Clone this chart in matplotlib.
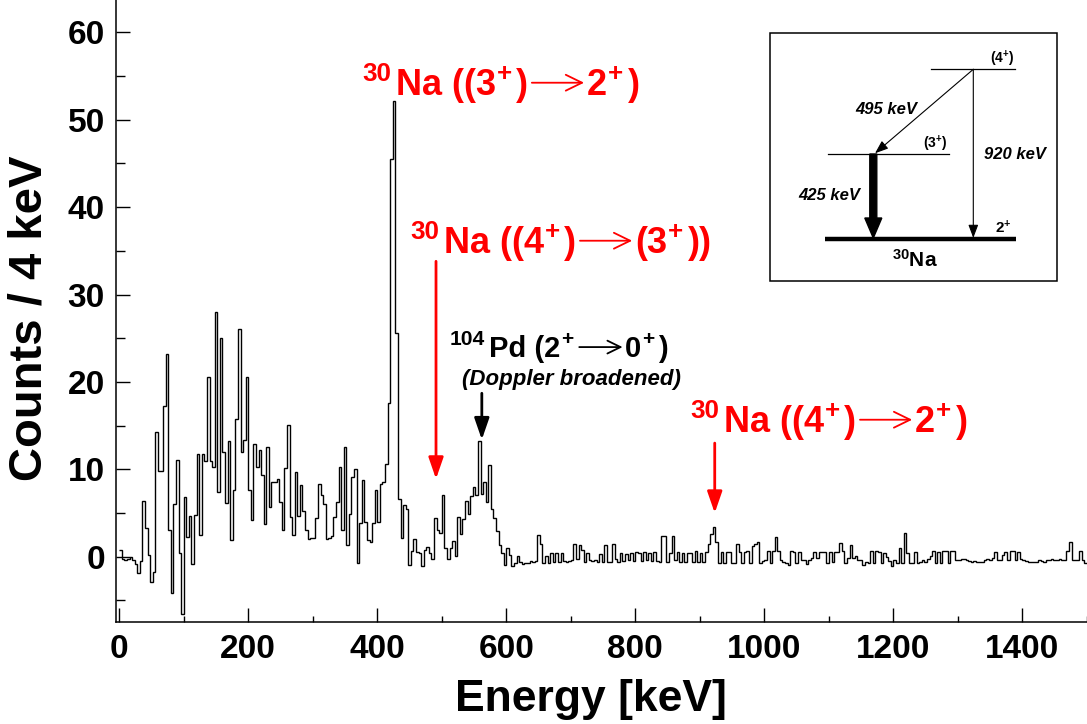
import numpy as np
import matplotlib
matplotlib.use('Agg')
import matplotlib.pyplot as plt
from matplotlib.patches import FancyArrowPatch, Rectangle, FancyArrow
from matplotlib.lines import Line2D

plt.rcParams['font.family'] = ['Liberation Sans', 'DejaVu Sans']
plt.rcParams['font.weight'] = 'bold'
plt.rcParams['mathtext.fontset'] = 'custom'
plt.rcParams['mathtext.rm'] = 'Liberation Sans:bold'
plt.rcParams['mathtext.it'] = 'Liberation Sans:bold:italic'
plt.rcParams['mathtext.bf'] = 'Liberation Sans:bold'
plt.rcParams['mathtext.default'] = 'rm'

# ---------------- data: counts per 4 keV bin ----------------
bin_width = 4  # keV
counts_0_200 = [
    0.8, -0.3, -0.4, -0.3, 0.0, -0.4, -0.8, -1.9, -0.5, 6.4,
    3.3, 0.2, -2.9, -1.8, 14.3, 9.8, 9.8, 17.2, 23.2, 3.0,
    -4.2, 6.0, 11.1, 0.4, -6.5, 6.8, 2.2, 4.7, -0.8, 4.8,
    11.8, 2.5, 11.7, 10.9, 20.6, 10.9, 10.3, 28.0, 7.4, 25.0,
    12.0, 6.1, 13.2, 1.9, 7.6, 15.8, 26.0, 12.0, 13.4, 20.6]
counts_200_400 = [
    7.6, 4.2, 12.9, 10.3, 12.2, 9.4, 3.7, 12.5, 5.7, 8.5,
    8.6, 8.9, 6.3, 3.0, 10.1, 15.1, 4.6, 2.5, 9.7, 4.7,
    8.2, 5.2, 3.1, 2.0, 2.1, 2.1, 4.4, 8.3, 7.1, 6.0,
    2.0, 2.1, 2.4, 4.5, 6.3, 10.3, 3.1, 12.5, 1.3, 4.9,
    9.1, 10.0, -0.7, 3.9, 8.8, 4.0, 1.9, 1.7, 3.9, 7.6]
counts_400_600 = [
    4.0, 8.3, 8.5, 10.6, 17.6, 45.5, 52.1, 25.6, 6.6, 2.1,
    5.9, 5.5, -1.0, 0.6, 2.0, 0.5, 0.4, -1.1, 0.8, 1.1,
    0.4, -0.3, 4.4, 3.1, 2.7, 7.1, 1.0, -0.3, 1.0, 1.8,
    0.1, 4.5, 2.6, 4.3, 6.4, 4.9, 6.9, 8.0, 7.1, 13.2,
    7.2, 8.6, 6.3, 10.5, 5.5, 4.4, 2.9, 1.3, 0.4, -1.0]
counts_600_800 = [
    1.0, 0.2, -1.1, -0.7, 0.1, -0.6, -0.8, -0.7, -0.7, -0.5,
    -0.6, -0.5, 2.5, 1.4, -0.7, 0.1, -0.7, 0.4, -0.6, 0.4,
    -0.6, 0.4, -0.5, -0.6, -0.5, -0.4, 1.4, -0.3, 1.3, 0.8,
    -0.6, 0.4, -0.4, -0.5, -0.4, -0.6, 0.3, -0.6, 1.3, -0.6,
    -0.6, 1.4, -0.3, -0.6, 0.4, -0.5, 0.3, -0.4, 0.4, -0.5]
counts_800_1000 = [
    0.5, 0.4, -0.5, 0.5, -0.4, 0.4, -0.5, 0.5, -0.5, -0.6,
    2.4, 2.4, -0.6, 0.4, 2.4, -0.4, 0.5, -0.6, 0.4, -0.6,
    0.4, 0.4, -0.6, 0.6, -0.6, 0.4, -0.6, 0.5, 1.5, 2.6,
    3.4, 1.7, -0.7, 0.5, -0.7, 0.5, 0.5, -0.7, -0.7, 1.4,
    0.5, -0.7, 0.5, 0.6, -0.7, 1.2, 1.5, 1.7, -0.7, -0.5]
counts_1000_1200 = [
    -0.4, 0.6, -0.7, 0.6, 2.2, 0.6, -0.4, -0.6, -0.7, -1.0,
    0.6, 0.5, -0.7, 0.5, -0.4, -0.4, -0.8, -0.4, -0.2, 0.5,
    -0.2, 0.5, 0.5, 0.5, -0.7, 0.5, -0.6, 0.5, 0.5, 1.6,
    0.6, -0.7, -0.2, 1.3, -0.2, 0.1, -0.4, -0.4, -1.0, -0.6,
    -0.7, 0.6, -0.7, 0.6, 0.5, -0.7, 0.4, 0.0, -0.5, -1.1]
counts_1200_1400 = [
    -0.4, -0.7, 1.0, -0.7, 2.7, 0.4, -0.7, -0.7, 0.5, -0.7,
    -0.6, -0.4, -0.6, -0.3, 0.1, 0.6, -0.7, 0.5, -0.7, 0.6,
    0.6, -0.7, 0.6, 0.6, -0.4, -0.4, -0.3, -0.3, -0.4, -0.5,
    -0.6, -0.5, -0.6, -0.6, -0.6, -0.4, -0.3, -0.4, -0.1, 0.5,
    -0.4, -0.4, 0.2, 0.5, -0.4, 0.6, 0.6, -0.4, 0.5, -0.3]
counts_1400_1500 = [
    -0.4, -0.5, -0.6, -0.6, -0.6, -0.6, -0.4, -0.5, -0.6, -0.4,
    -0.4, -0.3, -0.4, -0.4, -0.3, -0.4, -0.4, 0.6, 1.7, -0.4,
    -0.4, -0.4, 0.65, -0.4, -0.7]

x_ticks = [0, 200, 400, 600, 800, 1000, 1200, 1400]
y_ticks = [0, 10, 20, 30, 40, 50, 60]

counts = np.array(counts_0_200 + counts_200_400 + counts_400_600 + counts_600_800
                  + counts_800_1000 + counts_1000_1200 + counts_1200_1400
                  + counts_1400_1500)
edges = np.arange(len(counts) + 1) * bin_width

# ---------------- figure ----------------
W, H = 1087, 724
fig = plt.figure(figsize=(W / 100, H / 100), dpi=100)
ax = fig.add_axes([116 / W, 1 - 622 / H, 1 - 116 / W, 622 / H])
ax.stairs(counts, edges, color='black', lw=1.0, baseline=None)

ax.set_xlim(-5, 1500)
ax.set_ylim(-7.47, 63.7)
ax.set_xticks(x_ticks)
ax.set_xticks(np.arange(0, 1501, 100), minor=True)
ax.set_yticks(y_ticks)
ax.set_yticks(np.arange(-5, 61, 5), minor=True)
ax.tick_params(axis='both', which='both', direction='in', width=1.0,
               top=False, right=False)
ax.tick_params(axis='x', which='major', length=10, pad=9, labelsize=24)
ax.tick_params(axis='x', which='minor', length=4)
ax.tick_params(axis='y', which='major', length=10, pad=8, labelsize=24)
ax.tick_params(axis='y', which='minor', length=6.7)
for lab in ax.get_xticklabels() + ax.get_yticklabels():
    lab.set_fontweight('bold')
for s in ['top', 'right']:
    ax.spines[s].set_visible(False)
for s in ['left', 'bottom']:
    ax.spines[s].set_linewidth(1.1)

# arrows marking transitions (data coordinates: energy, counts)
def marker_arrow(e, y0, y1, color):
    a = FancyArrowPatch((e, y0), (e, y1), arrowstyle='-|>,head_length=1.3,head_width=0.45',
                        mutation_scale=10, lw=2.0, color=color, shrinkA=0, shrinkB=0)
    ax.add_patch(a)

marker_arrow(491, 33.8, 8.9, 'red')
marker_arrow(562, 18.7, 13.4, 'black')
marker_arrow(923, 13.0, 5.0, 'red')

# overlay in pixel coordinates for text and inset
ov = fig.add_axes([0, 0, 1, 1], facecolor='none')
ov.set_xlim(0, W)
ov.set_ylim(H, 0)
ov.axis('off')
renderer = fig.canvas.get_renderer()

ov.text(591, 700, 'Energy [keV]', fontsize=32, fontweight='bold', ha='center', va='center')
ov.text(30, 318, 'Counts / 4 keV', fontsize=34, fontweight='bold', ha='center', va='center',
        rotation=90)


def rich(x, y, pieces, size, color, arrow_w):
    """Place text pieces: 'n' normal, 's' superscript, 'A' arrow."""
    em = size * 100 / 72
    cx = x
    for txt, kind in pieces:
        if kind == 'A':
            ym = y - 0.34 * em
            ov.add_patch(FancyArrowPatch((cx + 0.08 * em, ym), (cx + arrow_w - 0.08 * em, ym),
                                         arrowstyle='->,head_length=0.45,head_width=0.22',
                                         mutation_scale=size, lw=1.3, color=color,
                                         shrinkA=0, shrinkB=0))
            cx += arrow_w
            continue
        fs = size if kind == 'n' else size * 0.72
        dy = 0 if kind == 'n' else -0.40 * em
        t = ov.text(cx, y + dy, txt, fontsize=fs, fontweight='bold', color=color,
                    ha='left', va='baseline')
        bb = t.get_window_extent(renderer)
        cx = bb.x1 + (0.13 * em if kind == 's' else 0.02 * em)


red = '#ff0000'
rich(362, 95, [('30', 's'), ('Na ((3', 'n'), ('+', 's'), (')', 'n'), ('', 'A'),
               ('2', 'n'), ('+', 's'), (')', 'n')], 26, red, 58)
rich(410, 253, [('30', 's'), ('Na ((4', 'n'), ('+', 's'), (')', 'n'), ('', 'A'),
                ('(3', 'n'), ('+', 's'), ('))', 'n')], 26, red, 58)
rich(690, 432, [('30', 's'), ('Na ((4', 'n'), ('+', 's'), (')', 'n'), ('', 'A'),
                ('2', 'n'), ('+', 's'), (')', 'n')], 26, red, 58)
rich(450, 357, [('104', 's'), ('Pd (2', 'n'), ('+', 's'), ('', 'A'),
                ('0', 'n'), ('+', 's'), (')', 'n')], 21, 'black', 48)
ov.text(571, 380, '(Doppler broadened)', color='black', fontsize=16, fontweight='bold',
        style='italic', ha='center', va='center')

# ---------------- inset level scheme ----------------
ov.add_patch(Rectangle((770, 33), 1057 - 770, 281 - 33, fill=False, ec='black', lw=1.1))
ov.add_line(Line2D([930.7, 1015], [69.3, 69.3], color='black', lw=0.9))
ov.add_line(Line2D([828.3, 949], [154, 154], color='black', lw=0.9))
ov.add_line(Line2D([825, 1016], [239, 239], color='black', lw=3.2, solid_capstyle='butt'))
ov.text(1002, 63, r'(4$^{+}$)', fontsize=10, fontweight='bold', ha='center', va='baseline')
ov.text(935, 148, r'(3$^{+}$)', fontsize=10, fontweight='bold', ha='center', va='baseline')
ov.text(1003, 233, r'2$^{+}$', fontsize=11, fontweight='bold', ha='center', va='baseline')
ov.text(915, 267, r'$^{30}$Na', fontsize=15, fontweight='bold', ha='center', va='baseline')
ov.text(886, 114, '495 keV', fontsize=12, fontweight='bold', style='italic', ha='center',
        va='baseline')
ov.text(1015, 159, '920 keV', fontsize=12, fontweight='bold', style='italic', ha='center',
        va='baseline')
ov.text(829, 200, '425 keV', fontsize=12, fontweight='bold', style='italic', ha='center',
        va='baseline')
ov.add_patch(FancyArrowPatch((973.3, 69.3), (875, 153.3),
                             arrowstyle='-|>,head_length=0.8,head_width=0.3',
                             mutation_scale=10, lw=0.8, color='black', shrinkA=0, shrinkB=0))
ov.add_patch(FancyArrowPatch((973.3, 69.3), (973.3, 238),
                             arrowstyle='-|>,head_length=0.8,head_width=0.3',
                             mutation_scale=10, lw=0.8, color='black', shrinkA=0, shrinkB=0))
ov.add_patch(FancyArrow(873.3, 154, 0, 84, width=7, head_width=17, head_length=20,
                        length_includes_head=True, color='black'))

fig.savefig('out.png', dpi=100)
